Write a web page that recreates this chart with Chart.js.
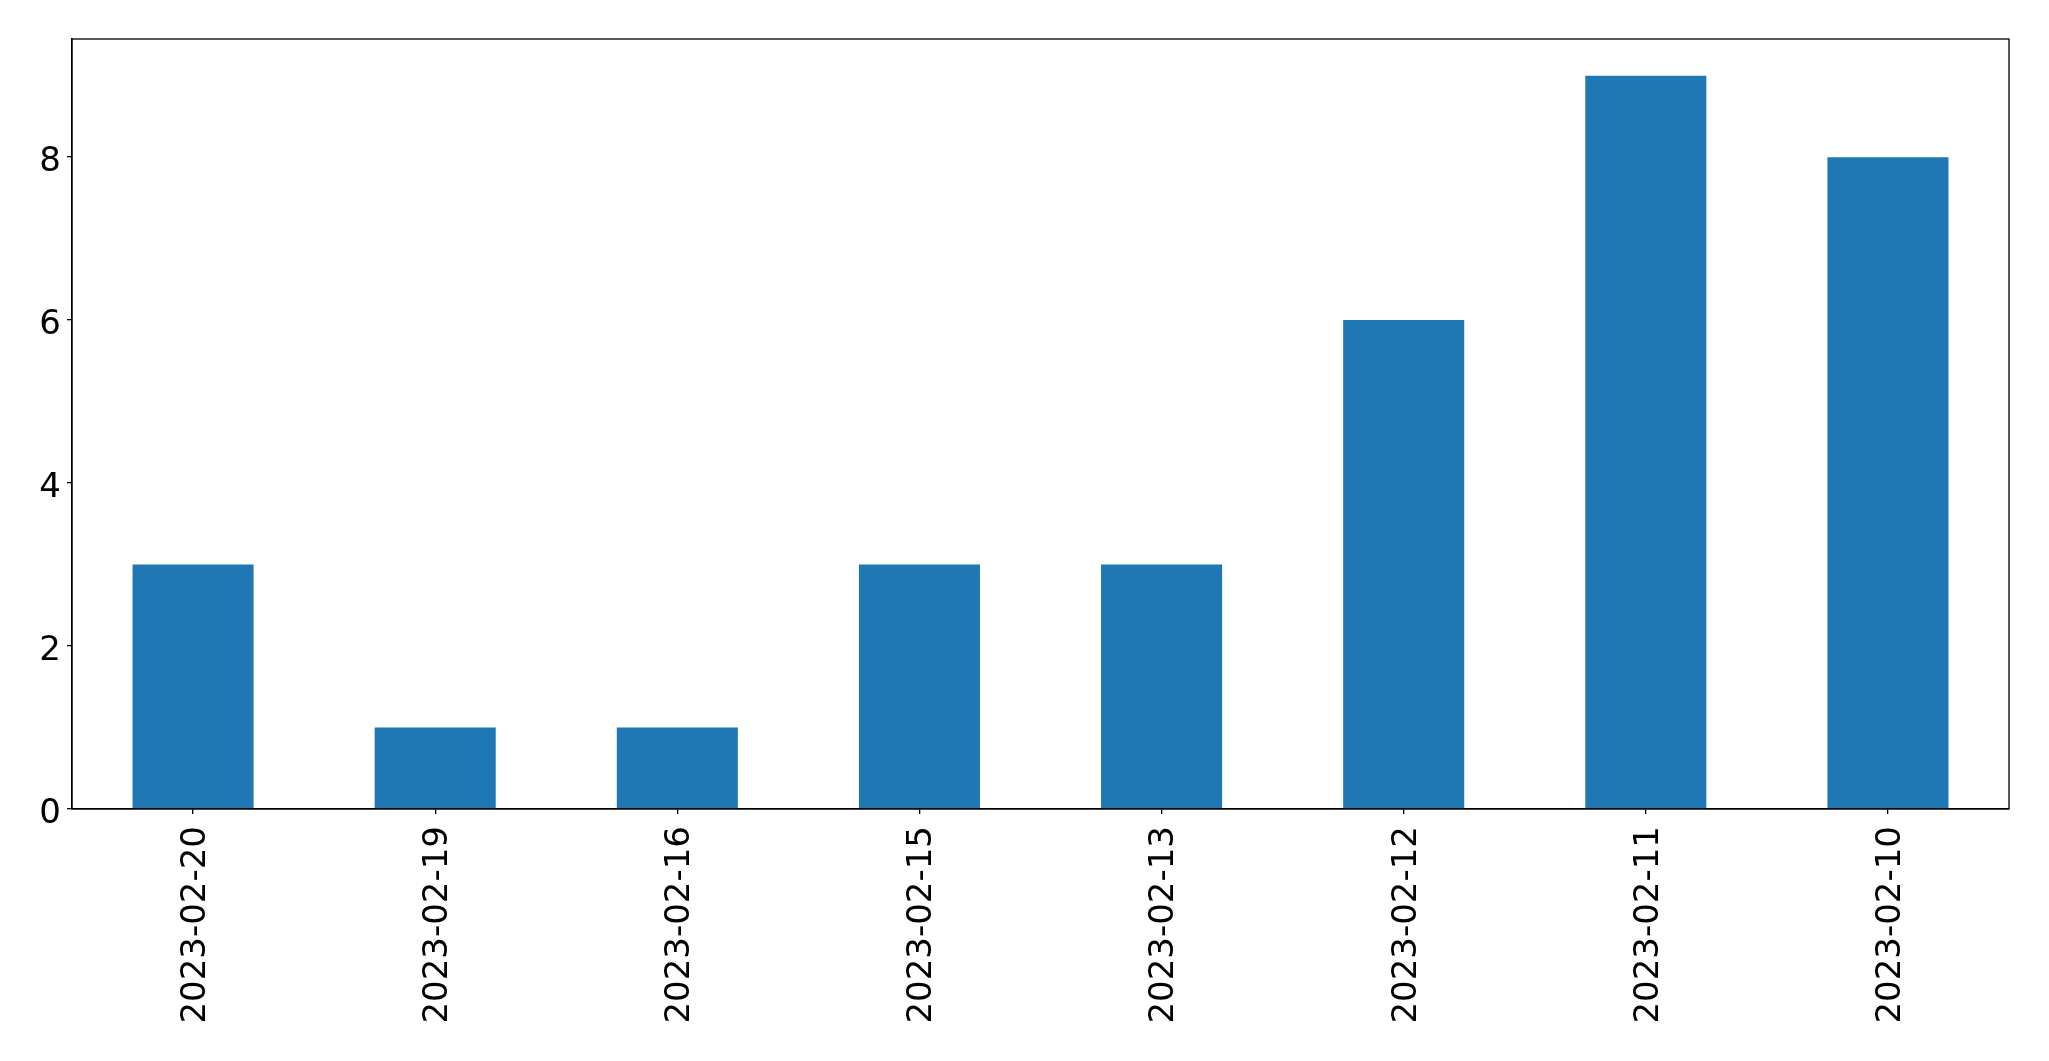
<!DOCTYPE html>
<html lang="en">
<head>
    <meta charset="UTF-8">
    <title>Bar chart</title>
    <script src="https://cdn.jsdelivr.net/npm/chart.js"></script>
    <style>
body {
    margin: 0;
    background: #fff;
}
.chart-box {
    width: 2049px;
    height: 1061px;
    position: relative;
}
    </style>
</head>
<body>
    <div class="chart-box">
        <canvas id="barChart"></canvas>
    </div>
    <script>
        // data
        const categories = ['2023-02-20', '2023-02-19', '2023-02-16', '2023-02-15',
                            '2023-02-13', '2023-02-12', '2023-02-11', '2023-02-10'];
        const counts = [3, 1, 1, 3, 3, 6, 9, 8];
        const yTicks = [0, 2, 4, 6, 8];

        const fontSpec = { family: 'DejaVu Sans', size: 34 };

        // box round the plot area, like matplotlib's spines
        const frame = {
            id: 'frame',
            afterDraw(chart) {
                const a = chart.chartArea;
                const ctx = chart.ctx;
                ctx.save();
                ctx.strokeStyle = '#000';
                ctx.lineWidth = 1.3;
                ctx.strokeRect(a.left, a.top, a.right - a.left, a.bottom - a.top);
                ctx.restore();
            }
        };

        new Chart(document.getElementById('barChart'), {
            type: 'bar',
            data: {
                labels: categories,
                datasets: [{
                    data: counts,
                    backgroundColor: '#1f77b4',
                    categoryPercentage: 1,
                    barPercentage: 0.5
                }]
            },
            options: {
                responsive: true,
                maintainAspectRatio: false,
                animation: false,
                layout: { padding: { left: 0, top: 39, right: 40, bottom: 0 } },
                plugins: {
                    legend: { display: false },
                    tooltip: { enabled: false }
                },
                scales: {
                    x: {
                        offset: true,
                        afterFit(scale) { scale.height = 252; },
                        grid: { offset: false, drawOnChartArea: false, tickLength: 5, color: '#000', lineWidth: 1.3 },
                        border: { display: true, color: '#000', width: 1.3 },
                        ticks: {
                            color: '#000',
                            font: fontSpec,
                            minRotation: 90,
                            maxRotation: 90,
                            autoSkip: false,
                            padding: 12,
                            labelOffset: 3
                        }
                    },
                    y: {
                        min: 0,
                        max: 9.45,
                        afterFit(scale) { scale.width = 72; },
                        afterBuildTicks(scale) {
                            scale.ticks = yTicks.map(v => ({ value: v }));
                        },
                        grid: { drawOnChartArea: false, tickLength: 5, color: '#000', lineWidth: 1.3 },
                        border: { display: true, color: '#000', width: 1.3 },
                        ticks: {
                            color: '#000',
                            font: fontSpec,
                            padding: 6,
                            labelOffset: 5
                        }
                    }
                }
            },
            plugins: [frame]
        });
    </script>
</body>
</html>
